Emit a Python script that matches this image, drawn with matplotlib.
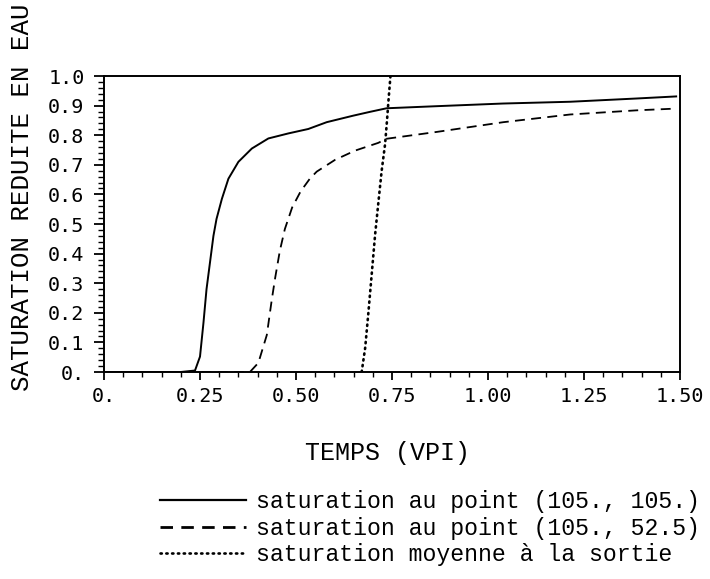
import matplotlib
matplotlib.use("Agg")
import matplotlib.pyplot as plt
from matplotlib.lines import Line2D
from matplotlib.ticker import MultipleLocator, FixedLocator

# ---- data ----
x_solid = [0.0, 0.10, 0.20, 0.237, 0.250, 0.259, 0.267, 0.276, 0.285, 0.293, 0.307,
           0.324, 0.350, 0.385, 0.428, 0.480, 0.532, 0.580, 0.649, 0.693, 0.736,
           0.866, 1.039, 1.214, 1.387, 1.49]
y_solid = [0.0, 0.0, 0.0, 0.005, 0.052, 0.166, 0.280, 0.370, 0.460, 0.517, 0.585,
           0.653, 0.710, 0.755, 0.789, 0.806, 0.821, 0.844, 0.866, 0.879, 0.891,
           0.898, 0.907, 0.913, 0.924, 0.931]

x_dash = [0.0, 0.20, 0.38, 0.402, 0.424, 0.437, 0.446, 0.458, 0.471, 0.490, 0.512,
          0.536, 0.554, 0.602, 0.654, 0.714, 0.736, 0.866, 1.04, 1.214, 1.387, 1.491]
y_dash = [0.0, 0.0, 0.0, 0.031, 0.125, 0.245, 0.320, 0.410, 0.483, 0.556, 0.610,
          0.653, 0.677, 0.717, 0.748, 0.774, 0.788, 0.811, 0.844, 0.870, 0.884, 0.890]

x_dot = [0.671, 0.680, 0.688, 0.697, 0.706, 0.714, 0.723, 0.732, 0.737, 0.741, 0.746]
y_dot = [0.0, 0.08, 0.193, 0.328, 0.464, 0.566, 0.679, 0.770, 0.850, 0.920, 1.0]

x_ticks = [0.0, 0.25, 0.50, 0.75, 1.00, 1.25, 1.50]
x_ticklabels = ["0.", "0.25", "0.50", "0.75", "1.00", "1.25", "1.50"]
y_ticks = [0.0, 0.1, 0.2, 0.3, 0.4, 0.5, 0.6, 0.7, 0.8, 0.9, 1.0]
y_ticklabels = ["0.", "0.1", "0.2", "0.3", "0.4", "0.5", "0.6", "0.7", "0.8", "0.9", "1.0"]

labels = ["saturation au point (105., 105.)",
          "saturation au point (105., 52.5)",
          "saturation moyenne à la sortie"]

# ---- figure ----
fig = plt.figure(figsize=(7.10, 5.79), dpi=100)
ax = fig.add_axes([104/710, 1 - 372/579, (680 - 104)/710, (372 - 76)/579])

ax.plot(x_solid, y_solid, color="black", lw=1.4, solid_joinstyle="round")
ax.plot(x_dash, y_dash, color="black", lw=1.3, dashes=(5.5, 3.5))
ax.plot(x_dot, y_dot, color="black", lw=1.9, dashes=(0.5, 1.7),
        dash_capstyle="round")

ax.set_xlim(0, 1.5)
ax.set_ylim(0, 1.0)

ax.xaxis.set_major_locator(FixedLocator(x_ticks))
ax.set_xticklabels(x_ticklabels)
ax.xaxis.set_minor_locator(MultipleLocator(0.05))
ax.yaxis.set_major_locator(FixedLocator(y_ticks))
ax.set_yticklabels(y_ticklabels)
ax.yaxis.set_minor_locator(MultipleLocator(0.02))

for lab in ax.get_xticklabels() + ax.get_yticklabels():
    lab.set_fontfamily("DejaVu Sans Mono")
    lab.set_fontsize(14.5)

ax.tick_params(axis="x", which="major", direction="out", length=6, width=1.3, pad=5)
ax.tick_params(axis="x", which="minor", direction="out", length=3.5, width=1.0)
ax.tick_params(axis="y", which="major", direction="out", length=7, width=1.3, pad=7)
ax.tick_params(axis="y", which="minor", direction="out", length=4.5, width=1.0)

for sp in ax.spines.values():
    sp.set_linewidth(1.4)

# axis labels
fig.text(22/710, 1 - 197/579, "SATURATION REDUITE EN EAU", rotation=90,
         ha="center", va="center", family="Liberation Mono", fontsize=18.5)
fig.text(387/710, 1 - 453/579, "TEMPS (VPI)", ha="center", va="center",
         family="Liberation Mono", fontsize=18)

# legend (proxy handles mimic the legend line styles)
h1 = Line2D([], [], color="black", lw=1.6)
h2 = Line2D([], [], color="black", lw=2.0, dashes=(4.5, 3.0))
h3 = Line2D([], [], color="black", lw=1.9, dashes=(0.5, 1.7), dash_capstyle="round")
ax.legend([h1, h2, h3], labels, loc="upper left",
          bbox_to_anchor=(160/710, 1 - 490/579), bbox_transform=fig.transFigure,
          frameon=False, borderpad=0, borderaxespad=0, handlelength=3.7,
          handletextpad=0.45, labelspacing=0.16,
          prop={"family": "Liberation Mono", "size": 16.7})

fig.savefig("out.png", dpi=100)
